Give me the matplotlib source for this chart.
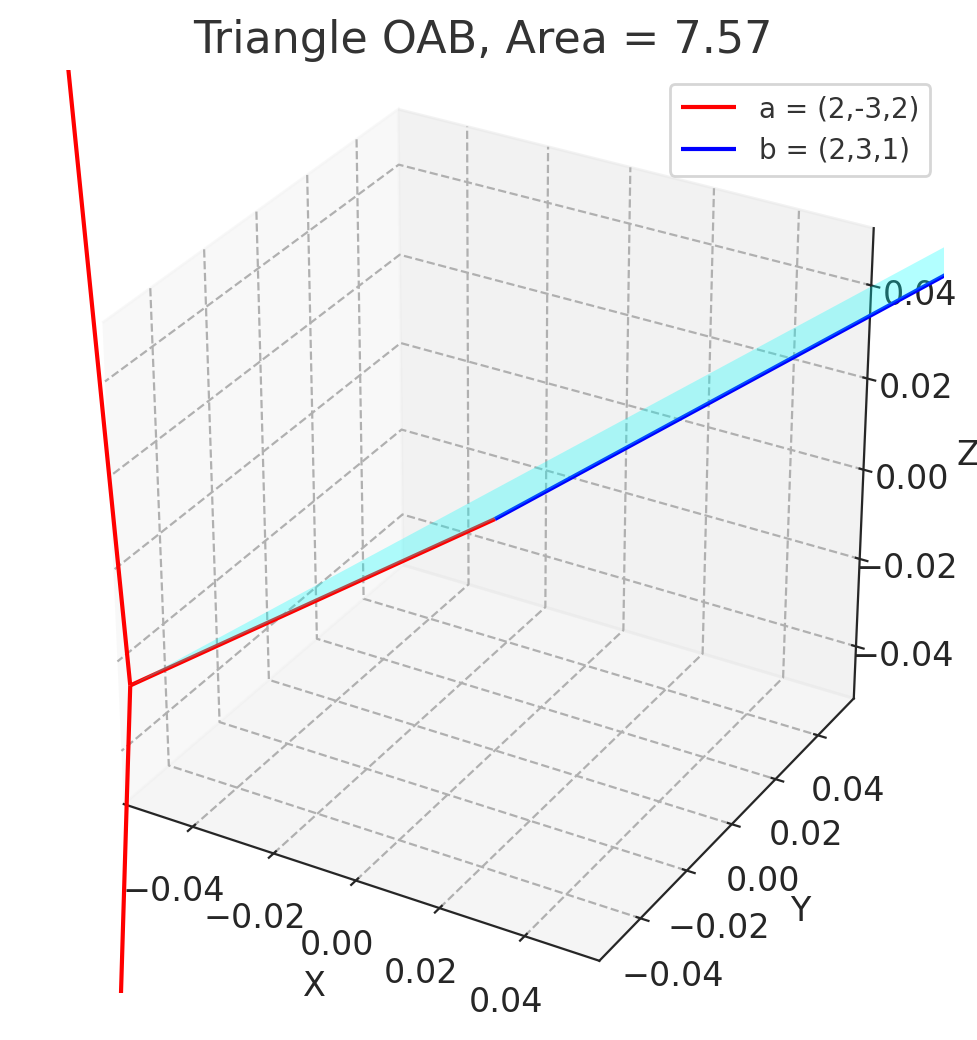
import numpy as np
import matplotlib
matplotlib.use("Agg")
import matplotlib.pyplot as plt
from mpl_toolkits.mplot3d.art3d import Poly3DCollection

a = [2, -3, 2]
b = [2, 3, 1]
origin = [0, 0, 0]
label_a = "a = (2,-3,2)"
label_b = "b = (2,3,1)"
xy_lim = (-0.0573, 0.0573)
z_lim = (-0.0521, 0.0521)

plt.rcParams.update({
    "text.color": "0.15",
    "axes.labelcolor": "0.15",
    "xtick.color": "0.15",
    "ytick.color": "0.15",
    "axes.edgecolor": "0.15",
    "grid.linestyle": "--",
    "grid.color": "#b0b0b0",
    "font.family": ["DejaVu Sans"],
})

area = 0.5 * np.linalg.norm(np.cross(a, b))

fig = plt.figure(figsize=(4.89, 5.2), dpi=200)
ax = fig.add_axes([21 / 978, 47 / 1040, 923 / 978, 923 / 1040], projection="3d")
ax.set_box_aspect((1, 1, 1))

ax.quiver(*origin, *a, color="red", label=label_a)
ax.quiver(*origin, *b, color="blue", label=label_b)
tri = Poly3DCollection([[origin, a, b]], facecolor="cyan", alpha=0.3)
ax.add_collection3d(tri, autolim=False)
ax.set_xlim(*xy_lim)
ax.set_ylim(*xy_lim)
ax.set_zlim(*z_lim)
ax.set_xlabel("X", fontsize=12)
ax.set_ylabel("Y", fontsize=12)
ax.set_zlabel("Z", fontsize=12)
ax.tick_params(labelsize=12)
ax.set_title(f"Triangle OAB, Area = {area:.2f}", fontsize=16, color="0.2")
leg = ax.legend(fontsize=10)
for t in leg.get_texts():
    t.set_color("0.2")

fig.savefig("out.png", dpi=200)
